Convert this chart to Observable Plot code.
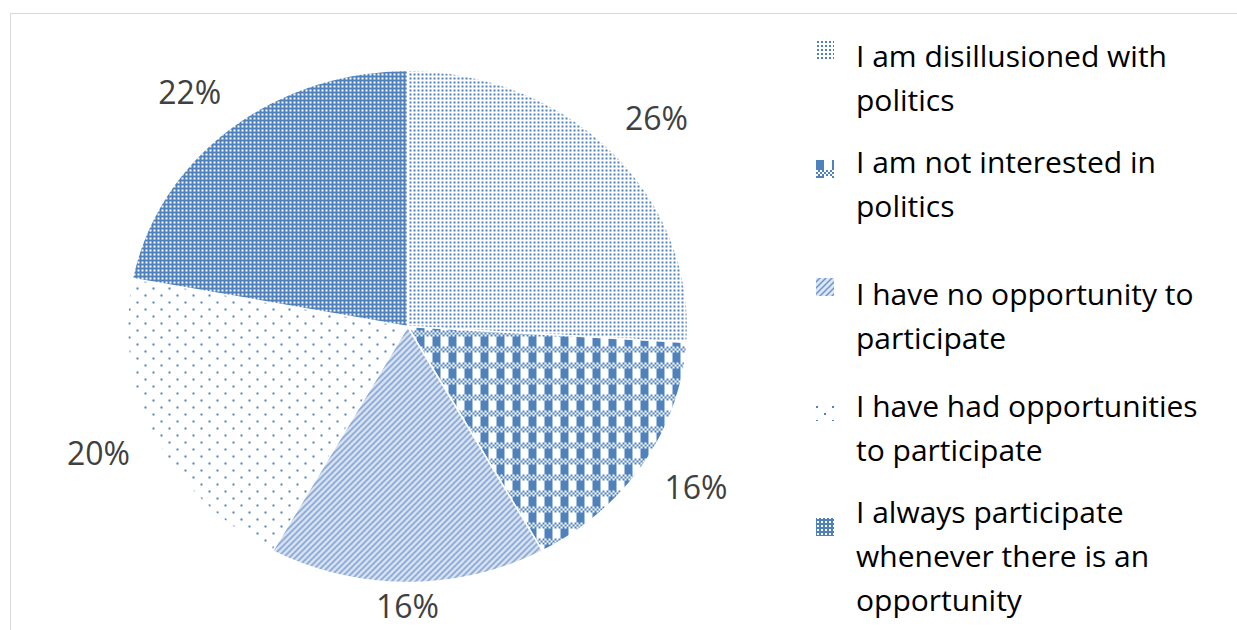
<!DOCTYPE html>
<html>
<head>
<meta charset="utf-8">
<script src="https://cdn.jsdelivr.net/npm/d3@7"></script>
<script src="https://cdn.jsdelivr.net/npm/@observablehq/plot@0.6"></script>
<style>
  body { margin: 0; background: #fff; }
  #wrap { position: relative; width: 1237px; height: 630px; overflow: hidden; background: #fff; }
  #wrap > svg { position: absolute; left: 0; top: 0; }
  #frame { position: absolute; left: 10px; top: 13px; width: 1300px; height: 700px; border: 1.5px solid #D9D9D9; box-sizing: border-box; pointer-events: none; }
</style>
</head>
<body>
<div id="wrap"><div id="frame"></div></div>
<script>
// ---- data ----
const categories = [
  "I am disillusioned with politics",
  "I am not interested in politics",
  "I have no opportunity to participate",
  "I have had opportunities to participate",
  "I always participate whenever there is an opportunity"
];
const shares = [26, 16, 16, 20, 22];
const shareLabels = ["26%", "16%", "16%", "20%", "22%"];
const legendLines = [
  ["I am disillusioned with", "politics"],
  ["I am not interested in", "politics"],
  ["I have no opportunity to", "participate"],
  ["I have had opportunities", "to participate"],
  ["I always participate", "whenever there is an", "opportunity"]
];

// ---- layout ----
const W = 1237, H = 630;
const BLUE = "#4F81BD";
const FONT = "'Open Sans', Lato, sans-serif";
const legendBaselines = [67, 173, 305, 417, 523];
const legendSwatchTops = [41, 160, 278, 403, 518];
const legendLineGap = 44;

// ---- pie geometry from data ----
const arcs = d3.pie().sort(null).value(d => d)(shares);
const sliceData = arcs.map((a, i) => {
  const pts = [{x: 0, y: 0, k: i}];
  const n = Math.max(2, Math.ceil((a.endAngle - a.startAngle) / (Math.PI / 360)));
  for (let j = 0; j <= n; j++) {
    const t = a.startAngle + (a.endAngle - a.startAngle) * j / n;
    pts.push({x: Math.sin(t), y: Math.cos(t), k: i});
  }
  pts.push({x: 0, y: 0, k: i});
  return pts;
});
const labelData = arcs.map((a, i) => {
  const m = (a.startAngle + a.endAngle) / 2;
  return {x: Math.sin(m) * 1.22, y: Math.max(Math.cos(m) * 1.18, -1.1), text: shareLabels[i]};
});

const chart = Plot.plot({
  width: W,
  height: H,
  margin: 0,
  style: {background: "transparent", fontFamily: FONT, overflow: "visible"},
  x: {domain: [-1, 1], range: [127, 687], axis: null},
  y: {domain: [-1, 1], range: [582, 70], axis: null},
  marks: [
    ...sliceData.map((pts, i) => Plot.line(pts, {
      x: "x", y: "y", curve: "linear",
      fill: `url(#pat${i})`, stroke: "white", strokeWidth: 1.5, strokeLinejoin: "round"
    })),
    Plot.text(labelData, {x: "x", y: "y", text: "text", fontSize: 32, fill: "#404040", fontFamily: FONT})
  ]
});

// pattern definitions (Excel-like pattern fills)
const defs = d3.select(chart).insert("defs", ":first-child");
function pat(id, w, h, bg) {
  const p = defs.append("pattern").attr("id", id).attr("patternUnits", "userSpaceOnUse")
    .attr("width", w).attr("height", h).attr("shape-rendering", "crispEdges");
  p.append("rect").attr("width", w).attr("height", h).attr("fill", bg);
  return p;
}
// 0: small dots grid
pat("pat0", 4, 4, "#fff").append("rect").attr("x", 1).attr("y", 1).attr("width", 2).attr("height", 2).attr("fill", BLUE);
// 1: plaid
{
  const p = pat("pat1", 16, 16, "#fff");
  p.append("rect").attr("x", 0).attr("y", 0).attr("width", 8).attr("height", 10).attr("fill", BLUE);
  for (let yy = 10; yy < 16; yy += 2) {
    for (let xx = ((yy / 2) % 2) * 2; xx < 16; xx += 4) {
      p.append("rect").attr("x", xx).attr("y", yy).attr("width", 2).attr("height", 2).attr("fill", BLUE);
    }
  }
}
// 2: light upward diagonal on pale blue
{
  const p = pat("pat2", 6, 6, "#DCE5F3");
  p.attr("shape-rendering", null);
  p.append("path").attr("d", "M-1,7 L7,-1 M-4,4 L4,-4 M2,10 L10,2").attr("stroke", "#7096CC").attr("stroke-width", 1.5);
}
// 3: sparse dots
{
  const p = pat("pat3", 16, 14, "#fff");
  p.append("rect").attr("x", 0).attr("y", 0).attr("width", 2).attr("height", 2).attr("fill", BLUE);
  p.append("rect").attr("x", 8).attr("y", 7).attr("width", 2).attr("height", 2).attr("fill", BLUE);
}
// 4: dense (blue with white holes)
pat("pat4", 4, 4, BLUE).append("rect").attr("x", 1).attr("y", 1).attr("width", 2).attr("height", 2).attr("fill", "#fff");

const wrap = document.getElementById("wrap");
wrap.insertBefore(chart, wrap.firstChild);

// legend
const leg = d3.select(wrap).append("svg")
  .attr("width", W).attr("height", H)
  .style("position", "absolute").style("left", 0).style("top", 0)
  .style("font-family", FONT);
categories.forEach((c, i) => {
  leg.append("rect").attr("x", 816).attr("y", legendSwatchTops[i]).attr("width", 18).attr("height", 18)
    .attr("fill", `url(#pat${i})`);
  const t = leg.append("text").attr("x", 856).attr("y", legendBaselines[i])
    .attr("font-size", 30).attr("fill", "#000");
  legendLines[i].forEach((ln, j) => {
    t.append("tspan").attr("x", 856).attr("y", legendBaselines[i] + j * legendLineGap).text(ln);
  });
});
</script>
</body>
</html>
